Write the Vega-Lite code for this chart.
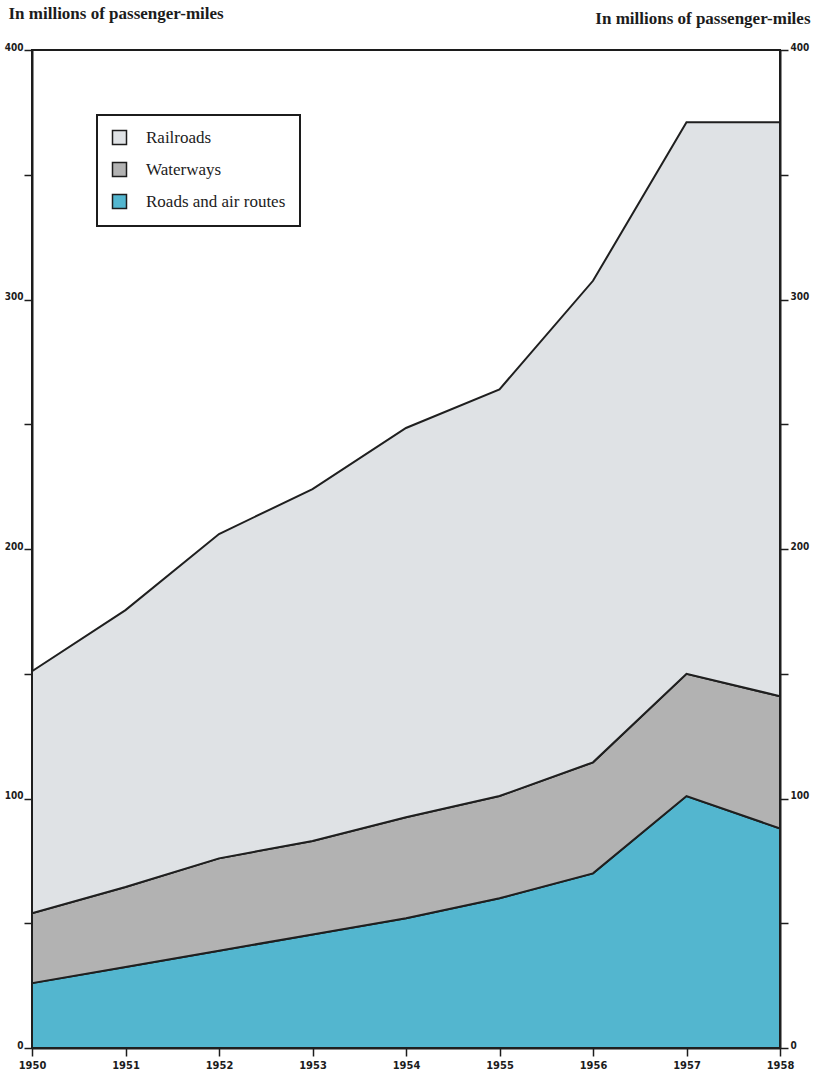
{
  "$schema": "https://vega.github.io/schema/vega-lite/v6.json",
  "width": 748,
  "height": 998,
  "autosize": {"type": "none"},
  "padding": {"left": 32, "top": 50, "right": 36, "bottom": 31},
  "background": "white",
  "config": {
    "view": {"stroke": "#1c1c1c", "strokeWidth": 2},
    "axis": {
      "grid": false,
      "domainColor": "#1c1c1c",
      "domainWidth": 2,
      "tickColor": "#1c1c1c",
      "tickWidth": 1.5,
      "labelFont": "'DejaVu Sans Condensed', 'Liberation Sans Narrow', 'DejaVu Sans'",
      "labelFontWeight": "bold",
      "labelColor": "#1c1c1c",
      "labelOverlap": false,
      "titleFont": "'Liberation Serif', 'DejaVu Serif'",
      "titleFontWeight": "bold",
      "titleFontSize": 17,
      "titleColor": "#1c1c1c"
    }
  },
  "data": {
    "values": [
      {"year": 1950, "mode": "Roads and air routes", "value": 26},
      {"year": 1951, "mode": "Roads and air routes", "value": 32.5},
      {"year": 1952, "mode": "Roads and air routes", "value": 39},
      {"year": 1953, "mode": "Roads and air routes", "value": 45.5},
      {"year": 1954, "mode": "Roads and air routes", "value": 52},
      {"year": 1955, "mode": "Roads and air routes", "value": 60},
      {"year": 1956, "mode": "Roads and air routes", "value": 70},
      {"year": 1957, "mode": "Roads and air routes", "value": 101},
      {"year": 1958, "mode": "Roads and air routes", "value": 88},
      {"year": 1950, "mode": "Waterways", "value": 28},
      {"year": 1951, "mode": "Waterways", "value": 32},
      {"year": 1952, "mode": "Waterways", "value": 37},
      {"year": 1953, "mode": "Waterways", "value": 37.5},
      {"year": 1954, "mode": "Waterways", "value": 40.5},
      {"year": 1955, "mode": "Waterways", "value": 41},
      {"year": 1956, "mode": "Waterways", "value": 44.5},
      {"year": 1957, "mode": "Waterways", "value": 49},
      {"year": 1958, "mode": "Waterways", "value": 53},
      {"year": 1950, "mode": "Railroads", "value": 97},
      {"year": 1951, "mode": "Railroads", "value": 111},
      {"year": 1952, "mode": "Railroads", "value": 130},
      {"year": 1953, "mode": "Railroads", "value": 141},
      {"year": 1954, "mode": "Railroads", "value": 156},
      {"year": 1955, "mode": "Railroads", "value": 163},
      {"year": 1956, "mode": "Railroads", "value": 193},
      {"year": 1957, "mode": "Railroads", "value": 221},
      {"year": 1958, "mode": "Railroads", "value": 230}
    ]
  },
  "transform": [
    {"calculate": "indexof(['Roads and air routes','Waterways','Railroads'], datum.mode)", "as": "stack_rank"}
  ],
  "encoding": {
    "x": {
      "field": "year",
      "type": "quantitative",
      "scale": {"domain": [1950, 1958], "nice": false, "zero": false},
      "axis": {
        "values": [1950, 1951, 1952, 1953, 1954, 1955, 1956, 1957, 1958],
        "format": "d",
        "tickSize": 8,
        "labelPadding": 3,
        "labelFontSize": 11,
        "labelFlush": false,
        "title": null
      }
    }
  },
  "layer": [
    {
      "mark": {"type": "area", "stroke": "#1f1f1f", "strokeWidth": 2, "strokeJoin": "miter", "opacity": 1},
      "encoding": {
        "y": {
          "field": "value",
          "type": "quantitative",
          "stack": "zero",
          "scale": {"domain": [0, 400], "nice": false},
          "axis": {
            "orient": "left",
            "values": [0, 50, 100, 150, 200, 250, 300, 350, 400],
            "labelExpr": "datum.value % 100 === 0 ? datum.label : ''",
            "tickSize": 8,
            "labelPadding": 1,
            "labelBaseline": "alphabetic",
            "labelFontSize": 10,
            "title": "In millions of passenger-miles",
            "titleAngle": 0,
            "titleAlign": "left",
            "titleBaseline": "alphabetic",
            "titleX": -24,
            "titleY": -32
          }
        },
        "color": {
          "field": "mode",
          "type": "nominal",
          "scale": {
            "domain": ["Railroads", "Waterways", "Roads and air routes"],
            "range": ["#dfe2e5", "#b2b2b2", "#53b6cf"]
          },
          "legend": {
            "orient": "none",
            "legendX": 65,
            "legendY": 65,
            "title": null,
            "padding": 14,
            "strokeColor": "#1c1c1c",
            "fillColor": "#ffffff",
            "symbolType": "square",
            "symbolSize": 196,
            "symbolStrokeColor": "#1c1c1c",
            "symbolStrokeWidth": 1.5,
            "symbolOpacity": 1,
            "labelFont": "'Liberation Serif', 'DejaVu Serif'",
            "labelFontSize": 17,
            "labelColor": "#1c1c1c",
            "labelOffset": 18,
            "rowPadding": 11,
            "labelLimit": 400,
            "encode": {"legend": {"update": {"strokeWidth": {"value": 2}}}}
          }
        },
        "order": {"field": "stack_rank", "type": "quantitative"}
      }
    },
    {
      "mark": {"type": "point", "opacity": 0},
      "encoding": {
        "y": {
          "field": "value",
          "type": "quantitative",
          "scale": {"domain": [0, 400], "nice": false},
          "axis": {
            "orient": "right",
            "values": [0, 50, 100, 150, 200, 250, 300, 350, 400],
            "labelExpr": "datum.value % 100 === 0 ? datum.label : ''",
            "tickSize": 8,
            "labelPadding": 2,
            "labelBaseline": "alphabetic",
            "labelFontSize": 10,
            "title": "In millions of passenger-miles",
            "titleAngle": 0,
            "titleAlign": "right",
            "titleBaseline": "alphabetic",
            "titleX": 30,
            "titleY": -27
          }
        }
      }
    }
  ],
  "resolve": {"axis": {"y": "independent"}}
}
